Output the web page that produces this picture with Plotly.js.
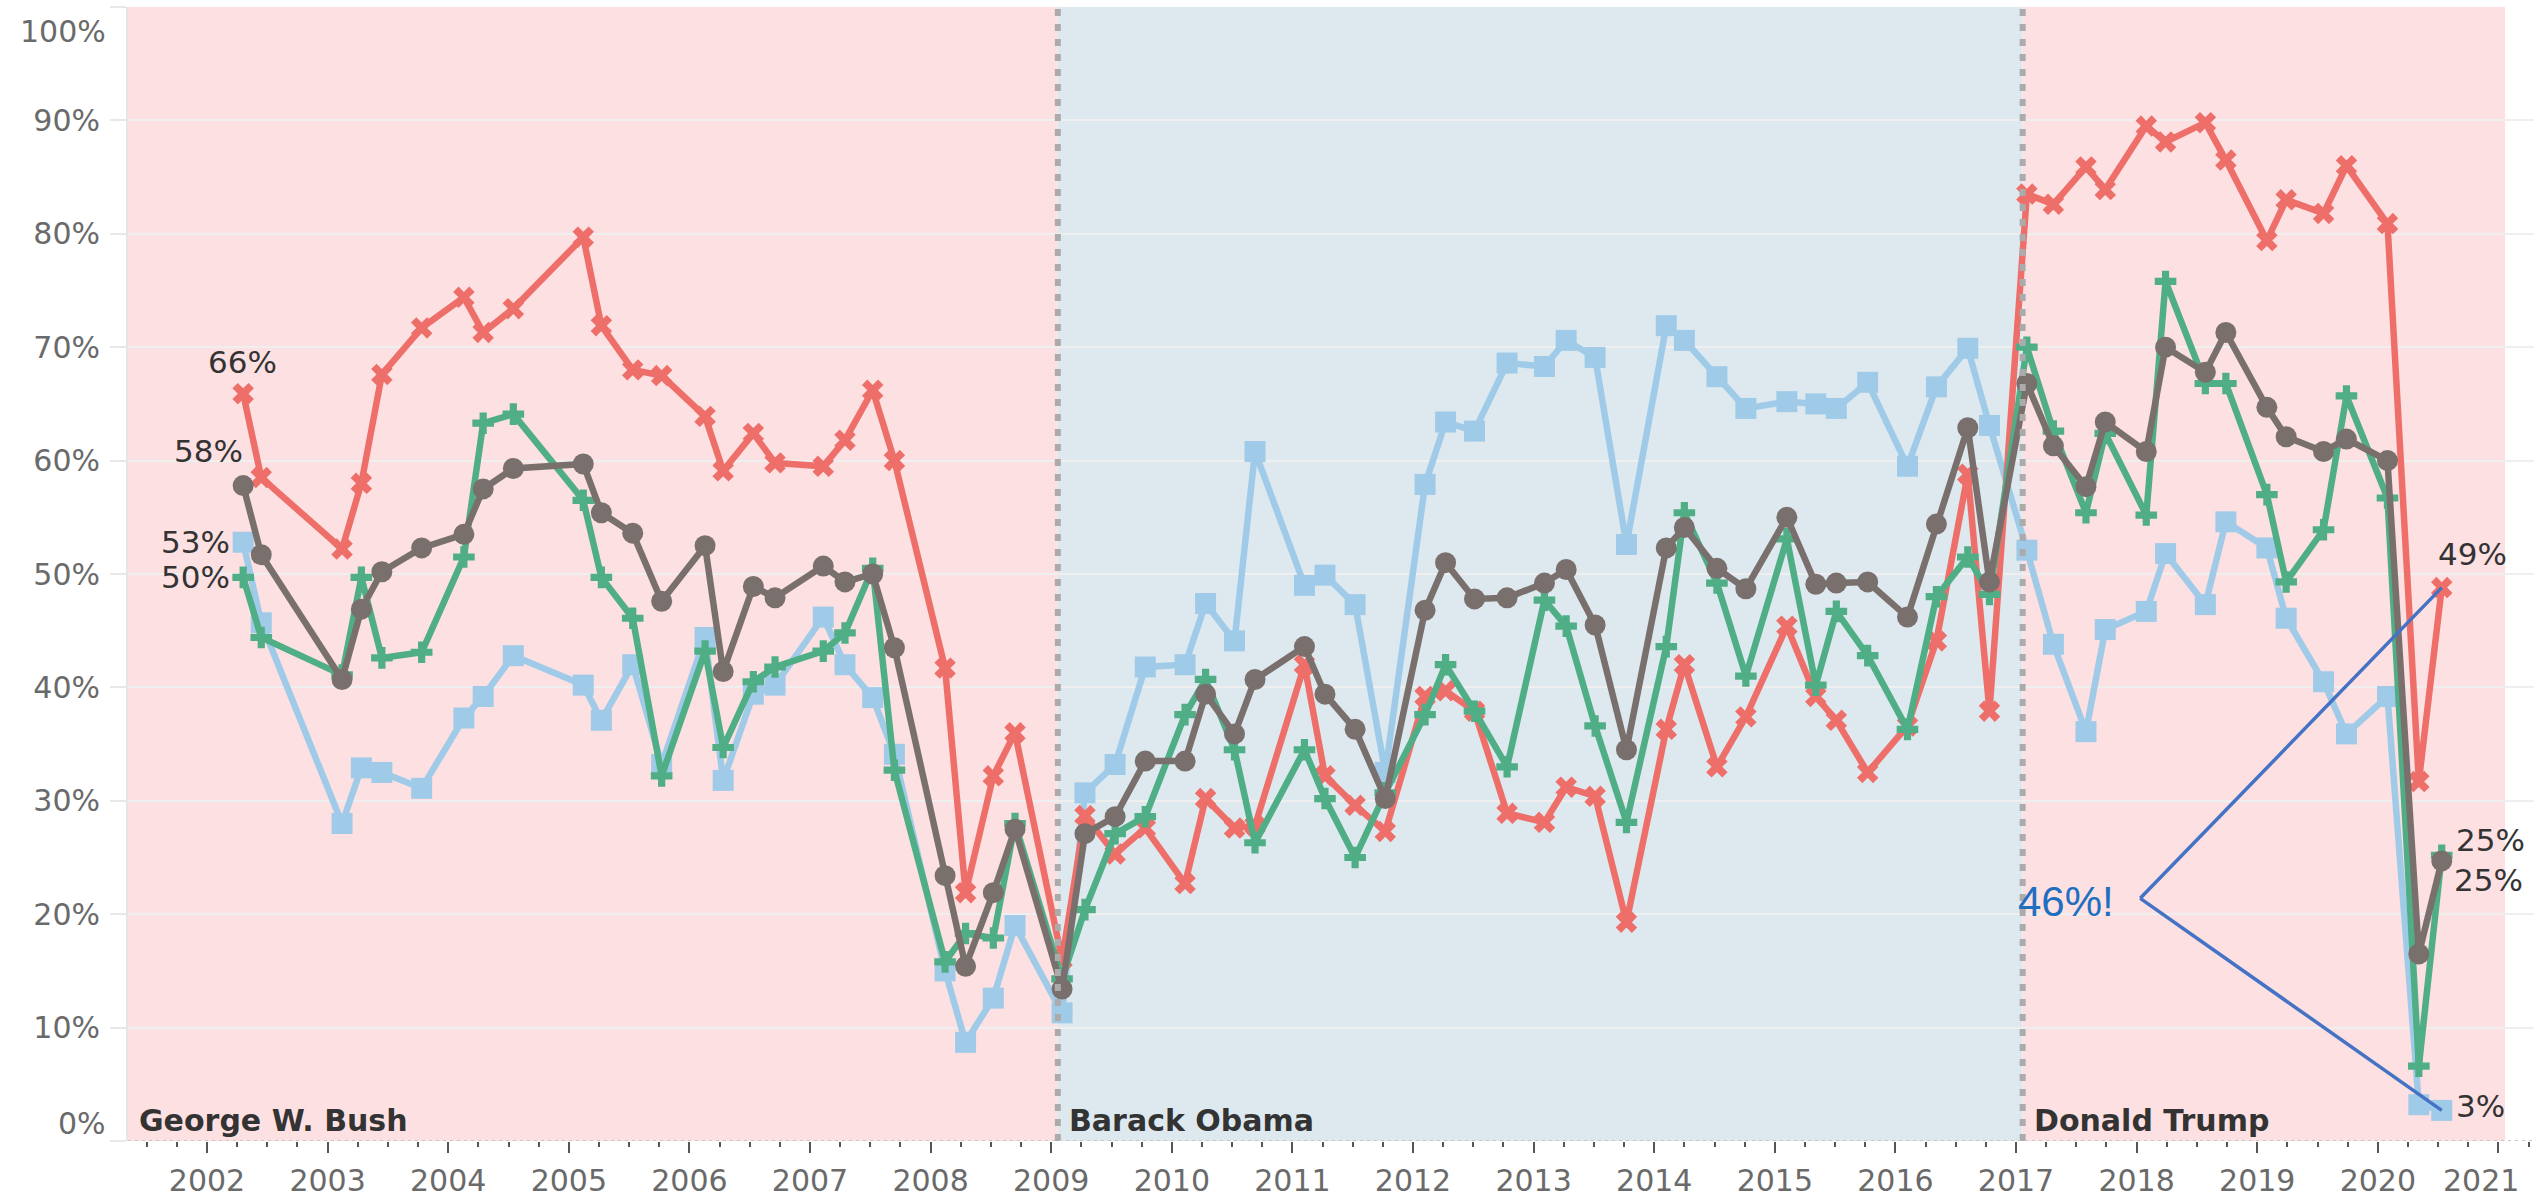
<!DOCTYPE html>
<html>
<head>
<meta charset="utf-8">
<script src="https://cdn.plot.ly/plotly-3.0.1.min.js"></script>
<style>
html,body{margin:0;padding:0;background:#ffffff;}
#chart{width:2534px;height:1203px;}
</style>
</head>
<body>
<div id="chart"></div>
<script>
// Poll dates (decimal years), shared by all four series
const pollDates = [
  2002.30, 2002.45, 2003.12, 2003.28, 2003.45, 2003.78, 2004.13, 2004.29, 2004.54,
  2005.12, 2005.27, 2005.53, 2005.77, 2006.13, 2006.28, 2006.53, 2006.71,
  2007.11, 2007.29, 2007.52, 2007.70, 2008.12, 2008.29, 2008.52, 2008.70,
  2009.09, 2009.28, 2009.53, 2009.78, 2010.11, 2010.28, 2010.52, 2010.69,
  2011.10, 2011.27, 2011.52, 2011.77, 2012.10, 2012.27, 2012.51, 2012.78,
  2013.09, 2013.27, 2013.51, 2013.77, 2014.10, 2014.25, 2014.52, 2014.76,
  2015.10, 2015.34, 2015.51, 2015.77, 2016.10, 2016.34, 2016.60, 2016.78,
  2017.09, 2017.31, 2017.58, 2017.74, 2018.08, 2018.24, 2018.57, 2018.74,
  2019.08, 2019.24, 2019.55, 2019.74, 2020.08, 2020.34, 2020.53
];

// Red series (x markers)
const republicans = [
  0.659, 0.585, 0.522, 0.580, 0.676, 0.717, 0.744, 0.713, 0.734,
  0.797, 0.719, 0.680, 0.675, 0.639, 0.591, 0.624, 0.598,
  0.595, 0.618, 0.662, 0.600, 0.417, 0.219, 0.322, 0.360,
  0.160, 0.287, 0.253, 0.276, 0.227, 0.302, 0.276, 0.278,
  0.420, 0.322, 0.296, 0.273, 0.392, 0.397, 0.379, 0.289,
  0.281, 0.312, 0.304, 0.193, 0.363, 0.420, 0.330, 0.374,
  0.454, 0.392, 0.371, 0.325, 0.366, 0.441, 0.588, 0.379,
  0.835, 0.826, 0.859, 0.839, 0.895, 0.881, 0.898, 0.865,
  0.794, 0.830, 0.818, 0.860, 0.809, 0.317, 0.488
];

// Green series (cross markers)
const independents = [
  0.497, 0.444, 0.411, 0.497, 0.426, 0.431, 0.515, 0.633, 0.641,
  0.565, 0.497, 0.461, 0.322, 0.432, 0.347, 0.405, 0.418,
  0.432, 0.448, 0.505, 0.327, 0.158, 0.183, 0.179, 0.280,
  0.143, 0.204, 0.271, 0.286, 0.376, 0.407, 0.345, 0.263,
  0.345, 0.302, 0.250, 0.307, 0.376, 0.420, 0.379, 0.330,
  0.477, 0.454, 0.366, 0.281, 0.436, 0.554, 0.492, 0.410,
  0.531, 0.402, 0.467, 0.428, 0.363, 0.480, 0.515, 0.482,
  0.700, 0.626, 0.554, 0.624, 0.552, 0.758, 0.668, 0.668,
  0.570, 0.493, 0.539, 0.657, 0.567, 0.066, 0.252
];

// Grey series (circle markers)
const allAdults = [
  0.578, 0.517, 0.407, 0.469, 0.502, 0.523, 0.535, 0.575, 0.593,
  0.597, 0.554, 0.536, 0.476, 0.525, 0.414, 0.489, 0.479,
  0.507, 0.493, 0.500, 0.435, 0.234, 0.154, 0.219, 0.275,
  0.134, 0.271, 0.286, 0.335, 0.335, 0.394, 0.359, 0.407,
  0.436, 0.394, 0.363, 0.302, 0.468, 0.510, 0.478, 0.479,
  0.492, 0.504, 0.455, 0.345, 0.523, 0.541, 0.505, 0.487,
  0.550, 0.491, 0.492, 0.493, 0.462, 0.544, 0.629, 0.493,
  0.668, 0.613, 0.577, 0.634, 0.608, 0.700, 0.678, 0.713,
  0.647, 0.621, 0.608, 0.619, 0.600, 0.165, 0.247
];

// Light blue series (square markers)
const democrats = [
  0.528, 0.457, 0.280, 0.329, 0.325, 0.311, 0.373, 0.392, 0.428,
  0.402, 0.371, 0.420, 0.332, 0.444, 0.318, 0.394, 0.402,
  0.462, 0.420, 0.391, 0.341, 0.150, 0.087, 0.126, 0.190,
  0.113, 0.307, 0.332, 0.418, 0.420, 0.474, 0.441, 0.608,
  0.490, 0.499, 0.473, 0.325, 0.579, 0.634, 0.626, 0.686,
  0.683, 0.706, 0.691, 0.526, 0.719, 0.706, 0.674, 0.646,
  0.652, 0.650, 0.646, 0.669, 0.595, 0.665, 0.699, 0.631,
  0.521, 0.438, 0.361, 0.451, 0.467, 0.518, 0.473, 0.546,
  0.523, 0.461, 0.405, 0.359, 0.392, 0.032, 0.027
];

// Presidential terms
const presidents = ['George W. Bush', 'Barack Obama', 'Donald Trump'];
const termStarts = [2001.055, 2009.055, 2017.055];
const termEnd = 2021.055;
const termParty = ['R', 'D', 'R'];

// Axis ticks
const yearTicks = [2002, 2003, 2004, 2005, 2006, 2007, 2008, 2009, 2010, 2011,
                   2012, 2013, 2014, 2015, 2016, 2017, 2018, 2019, 2020, 2021];
const yTickValues = [0, 0.1, 0.2, 0.3, 0.4, 0.5, 0.6, 0.7, 0.8, 0.9, 1.0];

// ---------------------------------------------------------------
const X_RANGE = [2001.345, 2021.295];
const pct = v => Math.round(v * 100) + '%';
const N = pollDates.length - 1;

const COLORS = {red: '#EE6F69', green: '#50AE86', grey: '#79706E', blue: '#A0CBE8'};
const LW = 6.5;
const TICK_FONT = {family: 'DejaVu Sans', size: 30, color: '#6A6A6A'};

function series(name, y, color, symbol, size) {
  return {
    type: 'scatter', mode: 'lines+markers', name: name,
    x: pollDates, y: y,
    line: {color: color, width: LW},
    marker: {symbol: symbol, size: size, color: color, line: {width: 0}},
    hoverinfo: 'skip'
  };
}

const traces = [
  series('Democrats', democrats, COLORS.blue, 'square', 21),
  series('Republicans', republicans, COLORS.red, 'x', 19),
  series('Independents', independents, COLORS.green, 'cross', 18),
  series('All', allAdults, COLORS.grey, 'circle', 21)
];

const shapes = [];
const partyFill = {R: '#FDE0E1', D: '#DDE9EF'};
for (let i = 0; i < presidents.length; i++) {
  const x0 = termStarts[i];
  const x1 = i + 1 < termStarts.length ? termStarts[i + 1] : termEnd;
  shapes.push({type: 'rect', xref: 'x', yref: 'paper', x0: x0, x1: x1, y0: 0, y1: 1,
    fillcolor: partyFill[termParty[i]], line: {width: 0}, layer: 'below'});
}
for (let i = 1; i < termStarts.length; i++) {
  shapes.push({type: 'line', xref: 'x', yref: 'paper', x0: termStarts[i], x1: termStarts[i], y0: 0, y1: 1,
    line: {color: '#ABABAB', width: 6, dash: '7px,8px'}, layer: 'above'});
}
// dotted baseline
shapes.push({type: 'line', xref: 'paper', yref: 'y', x0: 0, x1: 1, y0: 0, y1: 0,
  line: {color: '#C8C8C8', width: 2, dash: '3px,4px'}, layer: 'above'});

// "46%!" call-out: a wedge from a free apex to the last red and last blue points
const apex = {x: 2018.03, y: 0.214};
shapes.push({type: 'line', xref: 'x', yref: 'y', x0: apex.x, y0: apex.y, x1: pollDates[N], y1: republicans[N],
  line: {color: '#4472C4', width: 3.5}, layer: 'above'});
shapes.push({type: 'line', xref: 'x', yref: 'y', x0: apex.x, y0: apex.y, x1: pollDates[N], y1: democrats[N],
  line: {color: '#4472C4', width: 3.5}, layer: 'above'});

const LABEL_FONT = {family: 'DejaVu Sans', size: 31, color: '#333333'};
function dataLabel(x, y, text, xanchor, xshift, yshift) {
  return {xref: 'x', yref: 'y', x: x, y: y, text: text, showarrow: false,
    xanchor: xanchor, yanchor: 'middle', xshift: xshift, yshift: yshift, font: LABEL_FONT};
}

const annotations = [
  // start labels
  dataLabel(pollDates[0], republicans[0], pct(republicans[0]), 'center', -1, 32),
  dataLabel(pollDates[0], allAdults[0], pct(allAdults[0]), 'right', 2, 35),
  dataLabel(pollDates[0], democrats[0], pct(democrats[0]), 'right', -11, 0),
  dataLabel(pollDates[0], independents[0], pct(independents[0]), 'right', -11, 0),
  // end labels
  dataLabel(pollDates[N], republicans[N], pct(republicans[N]), 'left', -6, 34),
  dataLabel(pollDates[N], independents[N], pct(independents[N]), 'left', 12, 15),
  dataLabel(pollDates[N], allAdults[N], pct(allAdults[N]), 'left', 10, -19),
  dataLabel(pollDates[N], democrats[N], pct(democrats[N]), 'left', 12, 4),
  // call-out text
  {xref: 'x', yref: 'y', x: apex.x, y: apex.y, text: pct(republicans[N] - democrats[N]) + '!',
   showarrow: false, xanchor: 'right', yanchor: 'middle', xshift: -24, yshift: -3,
   font: {family: 'Liberation Sans', size: 42, color: '#1F6FC0'}},
  // edge y tick labels (kept inside the plot height, as in the original)
  {xref: 'paper', yref: 'y', x: 0, y: 0, text: pct(yTickValues[0]), showarrow: false, xanchor: 'right', yanchor: 'middle',
   xshift: -20, yshift: 18, font: TICK_FONT},
  {xref: 'paper', yref: 'y', x: 0, y: 1, text: pct(yTickValues[yTickValues.length - 1]), showarrow: false,
   xanchor: 'right', yanchor: 'middle', xshift: -20, yshift: -24, font: TICK_FONT},
  // last year label, nudged left so it stays inside the picture
  {xref: 'x', yref: 'paper', x: yearTicks[yearTicks.length - 1], y: 0, text: String(yearTicks[yearTicks.length - 1]),
   showarrow: false, xanchor: 'center', yanchor: 'middle', xshift: -17, yshift: -39, font: TICK_FONT}
];
for (let i = 0; i < presidents.length; i++) {
  annotations.push({xref: 'x', yref: 'y', x: Math.max(termStarts[i], X_RANGE[0]), y: 0,
    text: presidents[i], showarrow: false, xanchor: 'left', yanchor: 'bottom', xshift: 9, yshift: 1,
    font: {family: 'DejaVu Sans', size: 30, color: '#333333', weight: 'bold'}});
}

const layout = {
  width: 2534, height: 1203,
  margin: {l: 128, r: 0, t: 7, b: 62, pad: 0},
  paper_bgcolor: '#ffffff', plot_bgcolor: '#ffffff',
  showlegend: false,
  font: {family: 'DejaVu Sans', size: 30, color: '#666666'},
  xaxis: {
    range: X_RANGE, tickvals: yearTicks,
    ticktext: yearTicks.map((y, i) => i === yearTicks.length - 1 ? '' : String(y)),
    ticks: 'outside', ticklen: 11, tickwidth: 2, tickcolor: '#555555',
    minor: {ticks: 'outside', ticklen: 5, tickwidth: 2, tickcolor: '#555555', dtick: 0.25, tick0: 2002, showgrid: false},
    showgrid: false, zeroline: false, showline: false,
    tickfont: TICK_FONT,
    ticklabelstandoff: 2, fixedrange: true
  },
  yaxis: {
    range: [0, 1], tickvals: yTickValues,
    ticktext: yTickValues.map((v, i) => (i === 0 || i === yTickValues.length - 1) ? '' : pct(v)),
    showgrid: true, gridcolor: '#EFEFEF', gridwidth: 2,
    ticks: 'outside', ticklen: 16, tickwidth: 2, tickcolor: '#E8E8E8',
    showline: true, linecolor: '#E6E6E6', linewidth: 2, zeroline: false,
    tickfont: TICK_FONT,
    ticklabelstandoff: 4, fixedrange: true
  },
  shapes: shapes,
  annotations: annotations
};

Plotly.newPlot('chart', traces, layout, {displayModeBar: false, staticPlot: true});
</script>
</body>
</html>
